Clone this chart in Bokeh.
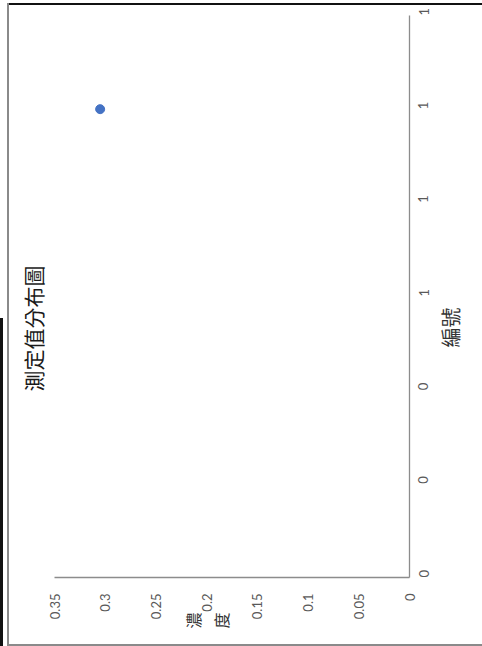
import math
from bokeh.plotting import figure
from bokeh.models import Range1d, FixedTicker, LinearAxis
from bokeh.embed import file_html
from bokeh.resources import INLINE

# Data (chart is shown rotated 90 degrees counter-clockwise)
id_values = [1.0]          # 編號
conc_values = [0.305]      # 濃度

conc_ticks = [0, 0.05, 0.1, 0.15, 0.2, 0.25, 0.3, 0.35]
conc_labels = ["0", "0.05", "0.1", "0.15", "0.2", "0.25", "0.3", "0.35"]
id_ticks = [0, 0.2, 0.4, 0.6, 0.8, 1.0, 1.2]
id_labels = ["0", "0", "0", "1", "1", "1", "1"]

title_text = "測定值分布圖"
conc_title = ["濃", "度"]
id_title = "編號"

frame_bg = ("linear-gradient(#8a8a8a,#8a8a8a), linear-gradient(#111,#111), "
            "linear-gradient(#8a8a8a,#8a8a8a), linear-gradient(#111,#111)")
p = figure(width=482, height=646, output_backend="svg", toolbar_location=None,
           x_range=Range1d(0.35, 0), y_range=Range1d(0, 1.2),
           y_axis_location="right",
           min_border_left=52, min_border_right=72, min_border_top=15, min_border_bottom=69,
           styles={"background-color": "white",
                   "background-image": frame_bg,
                   "background-position": "7px 3px, 8px 3px, 8px 644px, 0px 318px",
                   "background-size": "2px 643px, 474px 2px, 474px 2px, 3px 328px",
                   "background-repeat": "no-repeat"})
p.grid.visible = False
p.outline_line_color = None
p.background_fill_color = "white"
p.border_fill_color = None

lab_font = "Lato"
cjk = "Noto Sans CJK TC"


def style_axis(ax, ticks, labels, font, size, color, standoff, line=True):
    ax.ticker = FixedTicker(ticks=ticks, minor_ticks=[])
    ax.major_label_overrides = {t: l for t, l in zip(ticks, labels)}
    ax.major_tick_line_color = None
    ax.minor_tick_line_color = None
    ax.major_tick_out = 0
    ax.major_tick_in = 0
    ax.minor_tick_out = 0
    ax.axis_line_color = "#8c8c8c" if line else None
    ax.axis_line_width = 1.3
    ax.major_label_text_font = font
    ax.major_label_text_font_size = size
    ax.major_label_text_color = color
    ax.major_label_orientation = math.pi / 2
    ax.major_label_standoff = standoff


style_axis(p.xaxis[0], conc_ticks, conc_labels, lab_font, "13px", "#595959", 16)
style_axis(p.yaxis[0], id_ticks, id_labels, lab_font, "13px", "#595959", 14)

# axis titles and chart title, set as tick labels on extra axes
conc_title_pos = [0.2131, 0.1858]
ax_ct = LinearAxis()
style_axis(ax_ct, conc_title_pos, conc_title, cjk, "16px", "#333333", -10, line=False)
p.add_layout(ax_ct, "below")

ax_it = LinearAxis()
style_axis(ax_it, [0.491], [id_title], cjk, "20px", "#333333", 14, line=False)
p.add_layout(ax_it, "right")

ax_t = LinearAxis()
style_axis(ax_t, [0.666], [title_text], cjk, "21px", "#1a1a1a", 21, line=False)
p.add_layout(ax_t, "left")

p.scatter(x=conc_values, y=id_values, size=9, color="#4472C4")

open("out.html", "w").write(file_html(p, INLINE))
